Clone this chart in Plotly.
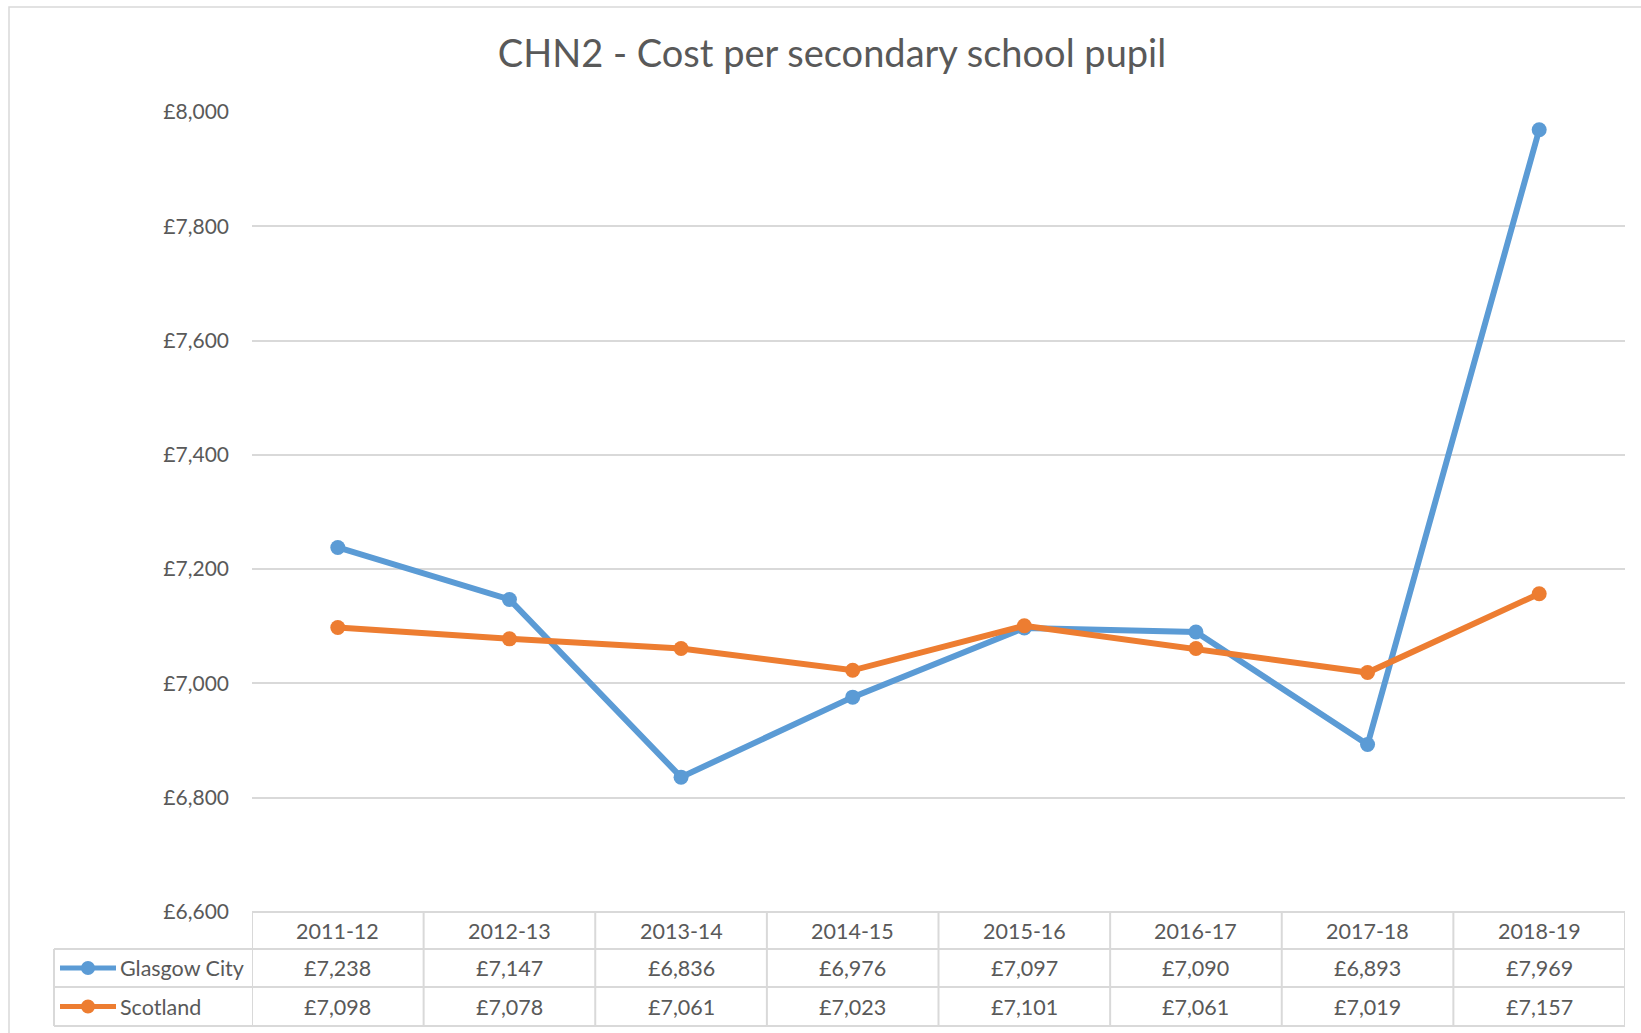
import plotly.graph_objects as go

# data
years = ["2011-12", "2012-13", "2013-14", "2014-15", "2015-16", "2016-17", "2017-18", "2018-19"]
glasgow = [7238, 7147, 6836, 6976, 7097, 7090, 6893, 7969]
scotland = [7098, 7078, 7061, 7023, 7101, 7061, 7019, 7157]
series_names = ["Glasgow City", "Scotland"]
series_colors = ["#5B9BD5", "#ED7D31"]

W, H = 1641, 1033
L, R, T, B = 252, 16, 112, 121
PW, PH = W - L - R, H - T - B
GRID = "#D9D9D9"
TXT = "#595959"
FONT = "Lato"
TSIZE = 21.5


def px_x(p):
    # pixel x -> paper x
    return (p - L) / PW


def px_y(p):
    # pixel y -> paper y
    return (H - B - p) / PH


fig = go.Figure()
for name, vals, col in zip(series_names, [glasgow, scotland], series_colors):
    fig.add_trace(go.Scatter(
        x=list(range(len(years))), y=vals, name=name, mode="lines+markers",
        line=dict(color=col, width=6),
        marker=dict(color=col, size=15),
        hovertemplate="%{text}<br>£%{y:,}<extra>" + name + "</extra>",
        text=years,
        cliponaxis=False,
    ))

shapes = []
annotations = []

# outer chart border (right/bottom fall outside the picture)
shapes.append(dict(type="rect", xref="paper", yref="paper",
                   x0=px_x(9), x1=px_x(W + 20), y0=px_y(H + 20), y1=px_y(7),
                   line=dict(color=GRID, width=1.5), layer="below"))

# data table grid
row_edges = [912, 949, 987, 1026]
shapes.append(dict(type="line", xref="x", yref="paper", x0=-0.5, x1=len(years) - 0.5,
                   y0=px_y(row_edges[0]), y1=px_y(row_edges[0]), line=dict(color=GRID, width=2)))
for e in row_edges[1:]:
    shapes.append(dict(type="line", xref="paper", yref="paper", x0=px_x(54), x1=1,
                       y0=px_y(e), y1=px_y(e), line=dict(color=GRID, width=2)))
shapes.append(dict(type="line", xref="paper", yref="paper", x0=px_x(54), x1=px_x(54),
                   y0=px_y(row_edges[1]), y1=px_y(row_edges[3]), line=dict(color=GRID, width=2)))
for i in range(len(years) + 1):
    shapes.append(dict(type="line", xref="x", yref="paper", x0=i - 0.5, x1=i - 0.5,
                       y0=px_y(row_edges[0]), y1=px_y(row_edges[3]), line=dict(color=GRID, width=2)))

centers = [(row_edges[k] + row_edges[k + 1]) / 2 for k in range(3)]
cell_font = dict(size=TSIZE, color=TXT, family=FONT)
for i, yr in enumerate(years):
    annotations.append(dict(x=i, xref="x", y=px_y(centers[0]), yref="paper", text=yr,
                            xanchor="center", yanchor="middle", showarrow=False, font=cell_font))
for k, (name, vals, col) in enumerate(zip(series_names, [glasgow, scotland], series_colors)):
    cy = px_y(centers[k + 1])
    for i, v in enumerate(vals):
        annotations.append(dict(x=i, xref="x", y=cy, yref="paper", text=f"£{v:,}",
                                xanchor="center", yanchor="middle", showarrow=False,
                                font=cell_font))
    # legend key: line + dot
    shapes.append(dict(type="line", xref="paper", yref="paper", x0=px_x(60), x1=px_x(116),
                       y0=cy, y1=cy, line=dict(color=col, width=5)))
    shapes.append(dict(type="circle", xref="paper", yref="paper",
                       xsizemode="pixel", ysizemode="pixel",
                       xanchor=px_x(88), yanchor=cy, x0=-7, x1=7, y0=-7, y1=7,
                       fillcolor=col, line=dict(color=col, width=0)))
    annotations.append(dict(x=px_x(118), xref="paper", y=cy, yref="paper", text=name,
                            xanchor="left", yanchor="middle", showarrow=False,
                            font=cell_font))

fig.update_layout(
    width=W, height=H,
    margin=dict(l=L, r=R, t=T, b=B),
    paper_bgcolor="white", plot_bgcolor="white",
    showlegend=False,
    title=dict(text="CHN2 - Cost per secondary school pupil", xref="paper", x=px_x(832),
               xanchor="center", yref="container", y=1 - 54 / H, yanchor="middle",
               font=dict(size=38, color=TXT, family=FONT)),
    xaxis=dict(range=[-0.5, len(years) - 0.5], showticklabels=False, showgrid=False,
               zeroline=False, showline=False, ticks=""),
    yaxis=dict(range=[6600, 8000], dtick=200, tickprefix="£", tickformat=",",
               showgrid=True, gridcolor=GRID, gridwidth=1.5, zeroline=False, showline=False,
               ticklabelstandoff=22,
               tickfont=dict(size=21, color=TXT, family=FONT)),
    shapes=shapes,
    annotations=annotations,
    hoverlabel=dict(bgcolor="white", font_size=16),
)

fig.write_html("out.html", config={"displayModeBar": False},
               post_script="document.body.style.margin='0';")
